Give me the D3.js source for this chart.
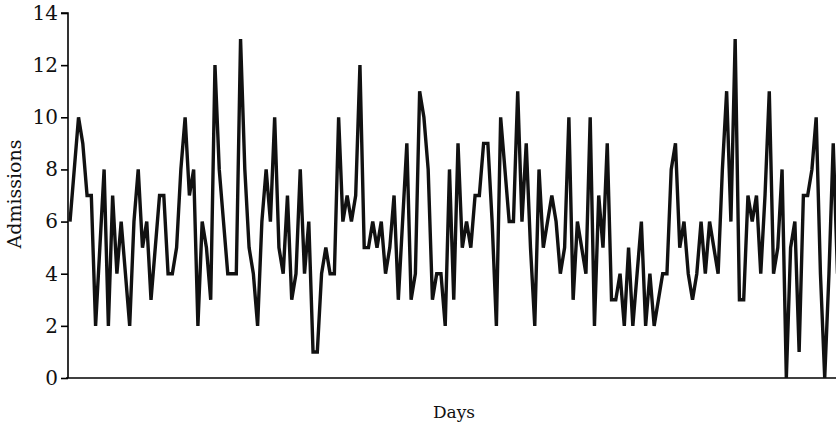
<!DOCTYPE html>
<html>
<head>
<meta charset="utf-8">
<script src="https://cdn.jsdelivr.net/npm/d3@7"></script>
<style>
  body { margin: 0; background: #fff; }
  svg { display: block; }
</style>
</head>
<body>
<svg width="836" height="425"></svg>
<script>
var svg = d3.select("svg");

var width = +svg.attr("width");
var height = +svg.attr("height");

// daily admissions
var admissions = [
    6, 8, 10, 9, 7, 7, 2, 5, 8, 2,
    7, 4, 6, 4, 2, 6, 8, 5, 6, 3,
    5, 7, 7, 4, 4, 5, 8, 10, 7, 8,
    2, 6, 5, 3, 12, 8, 6, 4, 4, 4,
    13, 8, 5, 4, 2, 6, 8, 6, 10, 5,
    4, 7, 3, 4, 8, 4, 6, 1, 1, 4,
    5, 4, 4, 10, 6, 7, 6, 7, 12, 5,
    5, 6, 5, 6, 4, 5, 7, 3, 6, 9,
    3, 4, 11, 10, 8, 3, 4, 4, 2, 8,
    3, 9, 5, 6, 5, 7, 7, 9, 9, 6,
    2, 10, 8, 6, 6, 11, 6, 9, 5, 2,
    8, 5, 6, 7, 6, 4, 5, 10, 3, 6,
    5, 4, 10, 2, 7, 5, 9, 3, 3, 4,
    2, 5, 2, 4, 6, 2, 4, 2, 3, 4,
    4, 8, 9, 5, 6, 4, 3, 4, 6, 4,
    6, 5, 4, 8, 11, 6, 13, 3, 3, 7,
    6, 7, 4, 7, 11, 4, 5, 8, 0, 5,
    6, 1, 7, 7, 8, 10, 4, 0, 4, 9,
    4
];
var days = d3.range(1, admissions.length + 1);
var yTicks = [0, 2, 4, 6, 8, 10, 12, 14];

var x = d3.scaleLinear()
    .domain([1, days.length])
    .range([70, 837.5]);

var y = d3.scaleLinear()
    .domain([0, 14])
    .range([378, 13]);

// y axis
var yAxis = svg.append("g")
    .attr("transform", "translate(68,0)")
    .call(d3.axisLeft(y).tickValues(yTicks).tickSize(7).tickPadding(3));
yAxis.select(".domain").attr("stroke-width", 1.6).attr("d", "M-7," + y(14) + "H0V" + y(0));
yAxis.selectAll(".tick line").attr("stroke-width", 1.6);
yAxis.selectAll(".tick text")
    .style("font-family", "DejaVu Serif")
    .style("font-size", "20px")
    .attr("fill", "#111");

// x axis, plain line
svg.append("line")
    .attr("x1", 66)
    .attr("x2", width)
    .attr("y1", y(0))
    .attr("y2", y(0))
    .attr("stroke", "#000")
    .attr("stroke-width", 1.6);

var line = d3.line()
    .x(function (d, i) { return x(days[i]); })
    .y(function (d) { return y(d); });

svg.append("path")
    .datum(admissions)
    .attr("d", line)
    .attr("fill", "none")
    .attr("stroke", "#111")
    .attr("stroke-width", 3.4)
    .attr("stroke-linejoin", "miter")
    .attr("stroke-miterlimit", 3);

svg.append("text")
    .attr("transform", "translate(21,194) rotate(-90)")
    .attr("text-anchor", "middle")
    .style("font-family", "DejaVu Serif")
    .style("font-size", "19px")
    .attr("fill", "#111")
    .text("Admissions");

svg.append("text")
    .attr("x", 454)
    .attr("y", 418)
    .attr("text-anchor", "middle")
    .style("font-family", "DejaVu Serif")
    .style("font-size", "17px")
    .attr("fill", "#111")
    .text("Days");
</script>
</body>
</html>
